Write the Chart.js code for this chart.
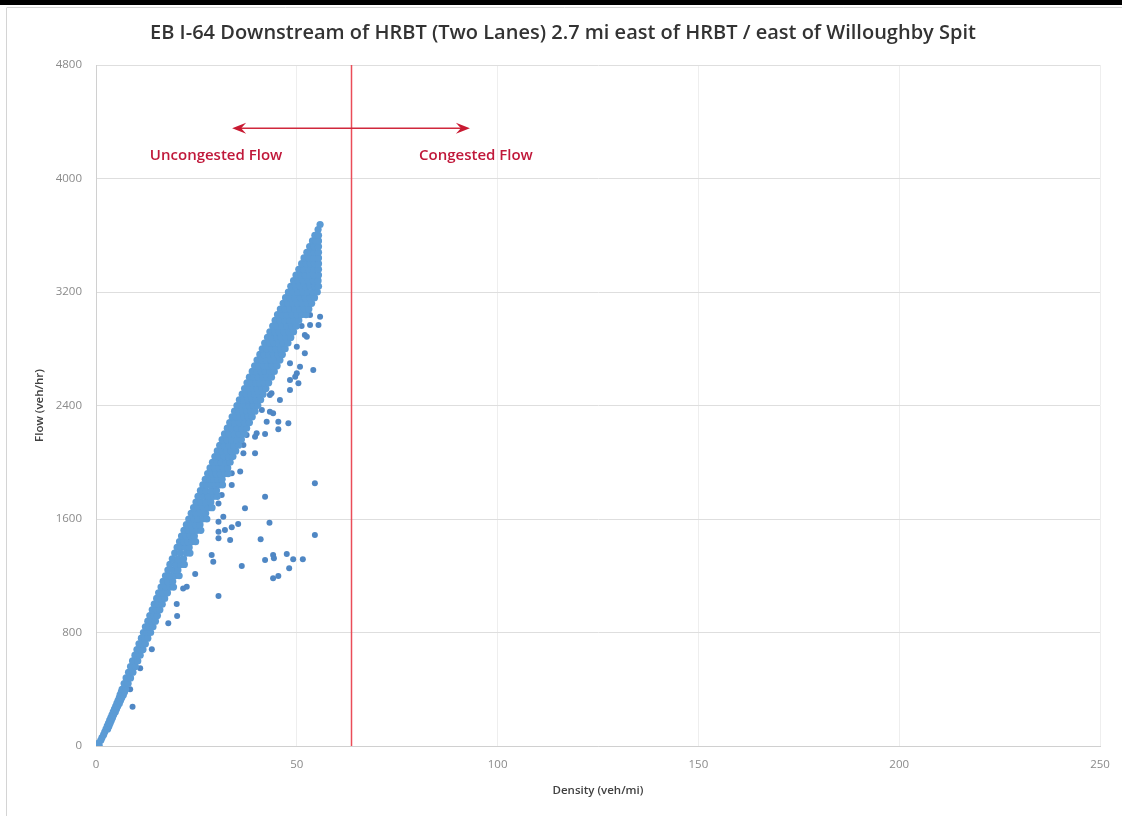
<!DOCTYPE html>
<html>
<head>
<meta charset="utf-8">
<script src="https://cdn.jsdelivr.net/npm/chart.js@4.4.1/dist/chart.umd.min.js"></script>
<style>
  html, body { margin: 0; padding: 0; background: #ffffff; }
  #c { display: block; }
</style>
</head>
<body>
<canvas id="c" width="1122" height="816"></canvas>
<script>
// ---------- DATA ----------
const chartTitle = 'EB I-64 Downstream of HRBT (Two Lanes) 2.7 mi east of HRBT / east of Willoughby Spit';
const xAxisTitle = 'Density (veh/mi)';
const yAxisTitle = 'Flow (veh/hr)';
const densityTicks = [0, 50, 100, 150, 200, 250];
const flowTicks = [0, 800, 1600, 2400, 3200, 4000, 4800];

// Dense band of observations: flow level of each row and the densities observed at it
const bandRowFlow = [0, 20, 40, 60, 80, 100, 120, 140, 160, 180, 200, 220, 240, 260, 280, 300, 320, 340, 360, 380, 400,
  440, 480, 520, 560, 600, 640, 680, 720, 760, 800, 840, 880, 920, 960, 1000, 1040, 1080,
  1120, 1160, 1200, 1240, 1280, 1320, 1360, 1400, 1440, 1480, 1520, 1560, 1600, 1640, 1680, 1720, 1760, 1800,
  1840, 1880, 1920, 1960, 2000, 2040, 2080, 2120, 2160, 2200, 2240, 2280, 2320, 2360, 2400, 2440, 2480, 2520, 2560, 2600, 2640, 2680, 2720,
  2760, 2800, 2840, 2880, 2920, 2960, 3000, 3040, 3080, 3120, 3160, 3200, 3240, 3280, 3320, 3360, 3400, 3440, 3480, 3520, 3560, 3600, 3640, 3675];
const bandRowDensity = [
  [0.3, 0.8], [0.7], [1.2], [1.5], [1.9], [2.2], [2.5, 2.9], [2.8, 3.2], [3.1, 3.5], [3.4, 3.8], [3.7, 4.1], [4.0, 4.4],
  [4.3, 4.8], [4.6, 5.1], [4.9, 5.4], [5.2, 5.8], [5.5, 6.1], [5.8, 6.4], [6.0, 6.8], [6.3, 7.1], [6.5, 7.4],
  [7.0, 8.0], [7.5, 8.6], [8.1, 9.2], [8.6, 9.8], [9.1, 10.4], [9.7, 11.0], [10.2, 11.0, 11.7], [10.7, 11.5, 12.3],
  [11.3, 12.1, 12.9], [11.8, 12.7, 13.6], [12.3, 13.2, 14.2], [12.9, 13.8, 14.8], [13.4, 14.4, 15.3], [14.0, 15.0, 15.9],
  [14.5, 15.5, 16.5], [15.1, 16.1, 17.1], [15.6, 16.7, 17.8],
  [16.2, 17.3, 18.4, 19.3], [16.7, 17.9, 19.1], [17.3, 18.5, 19.8, 20.7], [17.9, 19.2, 20.4], [18.4, 19.8, 21.1, 22.0],
  [19.0, 20.4, 21.8], [19.6, 21.0, 22.5, 23.4],
  [20.2, 21.2, 22.2, 23.2], [20.8, 21.8, 22.8, 23.9, 24.8], [21.3, 22.4, 23.5, 24.5], [21.9, 23.0, 24.1, 25.2, 26.1],
  [22.5, 23.6, 24.8, 25.9], [23.1, 24.3, 25.4, 26.6, 27.6], [23.7, 24.9, 26.1, 27.3], [24.3, 25.5, 26.7, 28.0, 28.9],
  [24.9, 26.1, 27.4, 28.6], [25.4, 26.7, 28.0, 29.3, 30.2], [26.0, 27.3, 28.7, 30.0],
  [26.6, 27.6, 28.7, 29.7, 30.7, 31.5], [27.2, 28.3, 29.3, 30.4, 31.4], [27.8, 28.9, 29.9, 31.0, 32.1, 32.9], [28.4, 29.5, 30.6, 31.7, 32.8],
  [29.0, 30.1, 31.2, 32.3, 33.4], [29.6, 30.7, 31.9, 33.0, 34.1], [30.2, 31.4, 32.5, 33.7, 34.8], [30.8, 32.0, 33.2, 34.3, 35.5],
  [31.4, 32.6, 33.8, 35.0, 36.2], [32.0, 33.2, 34.5, 35.7, 36.9], [32.7, 33.9, 35.1, 36.3, 37.5], [33.3, 34.5, 35.7, 37.0, 38.2],
  [33.9, 34.9, 35.9, 36.9, 37.9, 38.9], [34.5, 35.5, 36.5, 37.6, 38.6, 39.6], [35.1, 36.1, 37.2, 38.2, 39.2, 40.3],
  [35.7, 36.8, 37.8, 38.9, 39.9, 41.0], [36.4, 37.4, 38.5, 39.5, 40.6, 41.6], [37.0, 38.1, 39.1, 40.2, 41.3, 42.3],
  [37.6, 38.7, 39.8, 40.8, 41.9, 43.0], [38.2, 39.3, 40.4, 41.5, 42.6, 43.7], [38.9, 40.0, 41.1, 42.2, 43.3, 44.4],
  [39.5, 40.6, 41.7, 42.8, 43.9, 45.1], [40.1, 41.2, 42.4, 43.5, 44.6, 45.8], [40.8, 41.9, 43.0, 44.2, 45.3, 46.4],
  [41.4, 42.5, 43.7, 44.8, 46.0, 47.1], [42.0, 43.2, 44.3, 45.5, 46.6, 47.8], [42.7, 43.8, 45.0, 46.1, 47.3, 48.5],
  [43.3, 44.5, 45.6, 46.8, 48.0, 49.2], [44.0, 45.1, 46.3, 47.5, 48.7, 49.9], [44.6, 45.8, 47.0, 48.2, 49.3, 50.5],
  [45.2, 46.4, 47.6, 48.8, 50.0, 51.2, 52.3], [45.9, 47.1, 48.3, 49.5, 50.7, 51.9, 53.0], [46.6, 47.8, 49.0, 50.2, 51.4, 52.6, 53.7],
  [47.2, 48.4, 49.6, 50.9, 52.1, 53.3, 54.4], [47.9, 49.1, 50.3, 51.5, 52.7, 54.0, 55.1], [48.5, 49.7, 50.9, 52.2, 53.4, 54.6, 55.4],
  [49.2, 50.4, 51.6, 52.9, 54.1, 55.3], [49.8, 51.0, 52.1, 53.2, 54.3, 55.4], [50.5, 51.7, 53.0, 54.2, 55.4],
  [51.2, 52.3, 53.4, 54.4, 55.4], [51.8, 53.0, 54.2, 55.4], [52.5, 53.5, 54.4, 55.4], [53.2, 54.3, 55.4], [53.9, 54.7, 55.4],
  [54.5, 55.4], [55.3], [55.8]
];

// Scattered observations below the dense band
const outlierDensity = [55.4, 53.3, 52.0, 53.3, 55.8, 51.2, 52.5, 50.0, 52.0, 54.1, 48.3, 49.6, 50.4, 48.3, 45.8, 43.7, 47.9, 45.4, 42.5, 41.3,
  44.1, 40.0, 37.5, 39.6, 36.7, 35.9, 33.8, 33.8, 42.1, 54.5, 31.3, 37.1, 30.5, 31.7, 30.5, 35.4, 33.8, 32.1, 30.5, 43.2,
  54.5, 30.5, 33.4, 41.0, 28.8, 29.2, 36.3, 42.1, 44.1, 44.3, 47.5, 49.1, 51.5, 48.1, 45.4, 44.1, 24.7, 22.6, 21.7, 30.5,
  20.1, 20.2, 18.0, 13.9, 11.0, 8.5, 9.1, 50.8, 50.0, 48.3, 43.3, 43.3, 45.4, 42.1, 39.6, 36.7];
const outlierFlow = [2967, 2967, 2897, 3038, 3026, 2960, 2885, 2814, 2768, 2650, 2697, 2603, 2556, 2509, 2439, 2486, 2275, 2286, 2286, 2368,
  2345, 2204, 2192, 2063, 2063, 1934, 1922, 1840, 1757, 1852, 1769, 1675, 1710, 1616, 1581, 1565, 1541, 1522, 1510, 1574,
  1487, 1464, 1452, 1457, 1346, 1299, 1269, 1311, 1346, 1323, 1353, 1316, 1316, 1252, 1198, 1182, 1212, 1123, 1111, 1057,
  1001, 916, 865, 682, 548, 400, 277, 2673, 2627, 2580, 2474, 2356, 2232, 2199, 2180, 2122];

// Annotation: boundary between uncongested and congested flow
const criticalDensity = 63.5;
const arrowFlow = 4355;
const arrowFromDensity = 33.9;
const arrowToDensity = 93.1;
const uncongestedLabel = { text: 'Uncongested Flow', density: 29.9, flow: 4160 };
const congestedLabel = { text: 'Congested Flow', density: 94.6, flow: 4160 };

// ---------- BUILD ----------
const corePoints = [];
bandRowFlow.forEach((f, i) => bandRowDensity[i].forEach(d => corePoints.push({ x: d, y: f })));
const outlierPoints = outlierDensity.map((d, i) => ({ x: d, y: outlierFlow[i] }));

const framePlugin = {
  id: 'frame',
  beforeDraw(chart) {
    const c = chart.ctx;
    c.save();
    c.fillStyle = '#ffffff';
    c.fillRect(0, 0, chart.width, chart.height);
    c.fillStyle = '#000000';
    c.fillRect(0, 0, chart.width, 5);
    c.strokeStyle = '#d4d4d4';
    c.lineWidth = 1;
    c.beginPath();
    c.moveTo(6.5, 8);
    c.lineTo(6.5, chart.height);
    c.moveTo(6.5, 7.5);
    c.lineTo(chart.width, 7.5);
    c.stroke();
    c.restore();
  }
};

const annotationPlugin = {
  id: 'flowRegimes',
  afterDatasetsDraw(chart) {
    const c = chart.ctx;
    const xs = chart.scales.x, ys = chart.scales.y;
    const area = chart.chartArea;
    c.save();
    // critical density line
    const xc = Math.round(xs.getPixelForValue(criticalDensity)) + 0.5;
    c.strokeStyle = '#ea4d58';
    c.lineWidth = 1.5;
    c.beginPath();
    c.moveTo(xc, area.top);
    c.lineTo(xc, area.bottom);
    c.stroke();
    // double arrow
    const ya = ys.getPixelForValue(arrowFlow);
    const x1 = xs.getPixelForValue(arrowFromDensity);
    const x2 = xs.getPixelForValue(arrowToDensity);
    c.strokeStyle = '#d0283c';
    c.fillStyle = '#c81a32';
    c.lineWidth = 1.5;
    c.beginPath();
    c.moveTo(x1 + 4, ya);
    c.lineTo(x2 - 4, ya);
    c.stroke();
    const head = (tipX, dir) => {
      c.beginPath();
      c.moveTo(tipX, ya);
      c.lineTo(tipX + dir * 14, ya - 5.5);
      c.lineTo(tipX + dir * 9, ya);
      c.lineTo(tipX + dir * 14, ya + 5.5);
      c.closePath();
      c.fill();
    };
    head(x1, 1);
    head(x2, -1);
    // labels
    c.fillStyle = '#c0183a';
    c.font = '600 15px "Open Sans"';
    c.textAlign = 'center';
    c.textBaseline = 'middle';
    c.fillText(uncongestedLabel.text, xs.getPixelForValue(uncongestedLabel.density), ys.getPixelForValue(uncongestedLabel.flow));
    c.fillText(congestedLabel.text, xs.getPixelForValue(congestedLabel.density), ys.getPixelForValue(congestedLabel.flow));
    c.restore();
  }
};

new Chart(document.getElementById('c'), {
  type: 'scatter',
  data: {
    datasets: [
      { label: 'Observations', data: corePoints, pointRadius: 3.6, pointHoverRadius: 3.6,
        backgroundColor: '#5b9bd5', borderColor: '#5b9bd5', borderWidth: 0 },
      { label: 'Scattered observations', data: outlierPoints, pointRadius: 3, pointHoverRadius: 3,
        backgroundColor: '#4f87c4', borderColor: '#4f87c4', borderWidth: 0 }
    ]
  },
  options: {
    responsive: false,
    animation: false,
    events: [],
    layout: { padding: { left: 26, right: 22, top: 0, bottom: 0 } },
    plugins: {
      legend: { display: false },
      tooltip: { enabled: false },
      title: {
        display: true,
        text: chartTitle,
        color: '#333333',
        font: { family: '"Open Sans"', size: 20, weight: '600', lineHeight: 1.2 },
        padding: { top: 21, bottom: 20 }
      }
    },
    scales: {
      x: {
        type: 'linear',
        min: densityTicks[0],
        max: densityTicks[densityTicks.length - 1],
        afterBuildTicks: s => { s.ticks = densityTicks.map(v => ({ value: v })); },
        afterFit: s => { s.height = 70; },
        grid: { color: '#eeeeee', drawTicks: false, lineWidth: 1 },
        border: { color: '#d0d0d0' },
        ticks: { padding: 12, color: '#8a8a8a', font: { family: '"Open Sans"', size: 11.5 }, callback: v => String(v) },
        title: { display: true, text: xAxisTitle, color: '#404040',
          font: { family: '"Open Sans"', size: 11.5, weight: '600' }, padding: { top: 4, bottom: 18 } }
      },
      y: {
        type: 'linear',
        min: flowTicks[0],
        max: flowTicks[flowTicks.length - 1],
        afterBuildTicks: s => { s.ticks = flowTicks.map(v => ({ value: v })); },
        afterFit: s => { s.width = 70; },
        grid: { color: '#dedede', drawTicks: false, lineWidth: 1 },
        border: { color: '#d0d0d0' },
        ticks: { padding: 14, color: '#8a8a8a', font: { family: '"Open Sans"', size: 11.5 }, callback: v => String(v) },
        title: { display: true, text: yAxisTitle, color: '#404040',
          font: { family: '"Open Sans"', size: 11.5, weight: '600' }, padding: { top: 7, bottom: 0 } }
      }
    }
  },
  plugins: [framePlugin, annotationPlugin]
});
</script>
</body>
</html>
